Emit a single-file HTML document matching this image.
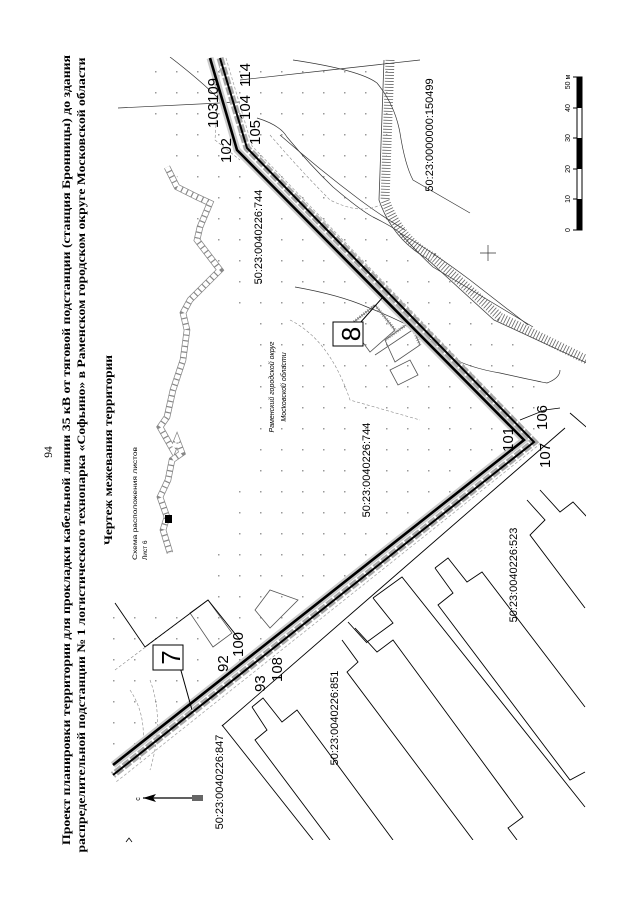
<!DOCTYPE html>
<html><head><meta charset="utf-8"><style>
html,body{margin:0;padding:0;background:#fff}
svg{display:block}
.t{font-family:"Liberation Serif",serif;font-weight:bold;font-size:11.5px;fill:#000}
.s{font-family:"Liberation Sans",sans-serif;fill:#000}
</style></head><body>
<svg width="640" height="905" viewBox="0 0 640 905" xmlns="http://www.w3.org/2000/svg">
<defs>
<pattern id="dots" width="21" height="21" patternUnits="userSpaceOnUse">
<rect x="8" y="8" width="1.5" height="1.5" fill="#999"/>
</pattern>
<clipPath id="map"><rect x="110" y="57" width="476" height="783"/></clipPath>
</defs>

<text class="t" transform="translate(52,452) rotate(-90)" text-anchor="middle" style="font-weight:normal">94</text>
<text class="t" transform="translate(70,450) rotate(-90)" text-anchor="middle" textLength="790" lengthAdjust="spacingAndGlyphs">Проект планировки территории для прокладки кабельной линии 35 кВ от тяговой подстанции (станция Бронницы) до здания</text>
<text class="t" transform="translate(85,455) rotate(-90)" text-anchor="middle" textLength="795" lengthAdjust="spacingAndGlyphs">распределительной подстанции № 1 логистического технопарка «Софьино» в Раменском городском округе Московской области</text>
<text class="t" transform="translate(112,450) rotate(-90)" text-anchor="middle" textLength="190" lengthAdjust="spacingAndGlyphs">Чертеж межевания территории</text>
<text class="s" font-size="6.5" transform="translate(137,560) rotate(-90)" textLength="113" lengthAdjust="spacingAndGlyphs">Схема расположения листов</text>
<text class="s" font-size="6.5" transform="translate(147,560) rotate(-90)">Лист 6</text>

<g clip-path="url(#map)">
<polygon points="150,57 390,57 385,200 433,257 500,317 560,420 525,440 110,770 110,600 200,600 250,450 250,330 150,120" fill="url(#dots)"/>

<path d="M390,60 L385,200 Q400,240 433,257 L500,317 L587,360" fill="none" stroke="#666" stroke-width="9" stroke-dasharray="0.8 2.2"/>
<path d="M384,60 L379,200 Q392,238 426,258 L494,320 L587,363" fill="none" stroke="#444" stroke-width="0.8"/>

<g fill="none" stroke="#333" stroke-width="0.7">
<path d="M293,60 Q360,70 377,83 Q395,105 400,133 Q405,165 413,180 L470,213"/>
<path d="M257,118 Q280,125 287,137 Q310,165 333,187 Q360,210 373,217 Q395,228 400,233 Q420,255 433,267 L533,327"/>
<path d="M295,287 Q340,295 367,307 Q395,318 417,330 Q440,345 450,357 Q470,368 500,373 Q540,382 547,383 Q560,378 560,370"/>
<path d="M118,108 L240,102"/>
<path d="M170,57 Q200,80 220,100"/>
<path d="M240,80 L330,70 L420,60"/>
<path d="M400,233 Q430,250 470,280 L528,325"/>
<path d="M280,135 Q320,170 360,200 Q380,215 405,230"/>
<path d="M480,253 L496,253 M488,245 L488,261"/>
</g>
<g fill="none" stroke="#888" stroke-width="0.6" stroke-dasharray="3 2">
<path d="M270,135 Q300,170 330,200 Q360,215 380,205"/>
<path d="M220,60 L215,140 L240,160"/>
<path d="M115,670 L208,600"/>
<path d="M130,690 Q150,720 140,760"/>
<path d="M150,680 Q165,720 150,770"/>
<path d="M290,320 Q330,340 350,400 L420,420"/>
</g>

<polyline points="167,167 177,187 197,197 210,203 200,227 197,240 210,257 220,270 210,280 190,300 183,313 187,330 183,360 173,390 167,417 160,427 173,450 177,440 182,453 172,460 168,480 160,497 167,517 163,530 170,553" fill="none" stroke="#888" stroke-width="6.5"/>
<polyline points="167,167 177,187 197,197 210,203 200,227 197,240 210,257 220,270 210,280 190,300 183,313 187,330 183,360 173,390 167,417 160,427 173,450 177,440 182,453 172,460 168,480 160,497 167,517 163,530 170,553" fill="none" stroke="#fff" stroke-width="5" stroke-dasharray="4.5 1.2"/>
<rect x="165" y="515" width="7" height="8" fill="#000"/>

<g fill="none" stroke="#555" stroke-width="0.8">
<path d="M350,325 L375,305 L395,330 L370,352 Z"/>
<path d="M385,340 L410,322 L420,345 L395,362 Z"/>
<path d="M375,355 L420,325"/>
<path d="M390,370 L410,360 L418,375 L398,385 Z"/>
<path d="M190,613 L208,600 L232,633 L213,647 Z"/>
<path d="M255,610 L270,590 L298,600 L270,628 Z"/>
</g>
<path d="M350,325 L375,305 L395,330" fill="none" stroke="#888" stroke-width="3" stroke-dasharray="1 1.5"/>
<path d="M385,340 L410,322 L420,345" fill="none" stroke="#888" stroke-width="3" stroke-dasharray="1 1.5"/>

<g fill="none" stroke="#000" stroke-width="0.9">
<path d="M565,428 L222,726"/>
<path d="M570,413 L592,432"/>
<path d="M222,725 L313,840"/>
<path d="M252,707 L263,698 L282,722 L297,710 L393,840"/>
<path d="M252,707 L267,730 L255,740 L330,840"/>
<path d="M348,622 L367,643"/>
<path d="M342,640 L358,662 L347,672 L473,840"/>
<path d="M355,628 L377,652 L393,640 L523,817 L508,828 L517,840"/>
<path d="M373,598 L402,577 L585,807"/>
<path d="M373,598 L393,623 L367,642"/>
<path d="M435,568 L448,558 L467,582 L482,572 L585,707"/>
<path d="M435,568 L453,593 L438,605 L570,780 L585,772"/>
<path d="M540,490 L560,512 L573,502 L587,517"/>
<path d="M527,500 L545,520 L530,535 L585,608"/>
<path d="M115,603 L145,647"/>
<path d="M145,647 L208,600 L240,640"/>
</g>

<polyline points="210,58 237,150 524,440 113,765" fill="none" stroke="#ccc" stroke-width="7"/>
<polyline points="220,58 247,148 534,442 113,775" fill="none" stroke="#aaa" stroke-width="7" stroke-dasharray="8 2"/>
<polyline points="210,58 237,150 524,440 113,765" fill="none" stroke="#000" stroke-width="2.6"/>
<polyline points="220,58 247,148 534,442 113,775" fill="none" stroke="#000" stroke-width="2"/>
<polyline points="226,58 252,146 540,444 116,782" fill="none" stroke="#aaa" stroke-width="0.8" stroke-dasharray="3 2"/>
</g>

<path d="M180,667 L192,710" stroke="#000" stroke-width="1"/>
<path d="M360,323 L383,297" stroke="#000" stroke-width="1"/>
<path d="M520,420 L545,410 L560,408" stroke="#000" stroke-width="0.7" fill="none"/>

<rect x="153" y="645" width="30" height="25" fill="#fff" stroke="#000" stroke-width="1"/>
<text class="s" font-size="26" transform="translate(180,657.5) rotate(-90)" text-anchor="middle">7</text>
<rect x="333" y="322" width="30" height="24" fill="#fff" stroke="#000" stroke-width="1"/>
<text class="s" font-size="26" transform="translate(360,334) rotate(-90)" text-anchor="middle">8</text>

<g class="s" font-size="15">
<text transform="translate(218,103) rotate(-90)">109</text>
<text transform="translate(218,128) rotate(-90)">103</text>
<text transform="translate(250,87) rotate(-90)">114</text>
<text transform="translate(250,120) rotate(-90)">104</text>
<text transform="translate(260,145) rotate(-90)">105</text>
<text transform="translate(231,163) rotate(-90)">102</text>
<text transform="translate(513,452) rotate(-90)">101</text>
<text transform="translate(547,430) rotate(-90)">106</text>
<text transform="translate(550,468) rotate(-90)">107</text>
<text transform="translate(228,672) rotate(-90)">92</text>
<text transform="translate(243,657) rotate(-90)">100</text>
<text transform="translate(265,692) rotate(-90)">93</text>
<text transform="translate(282,682) rotate(-90)">108</text>
</g>

<g class="s" font-size="11">
<text transform="translate(262,237) rotate(-90)" text-anchor="middle">50:23:0040226:744</text>
<text transform="translate(433,135) rotate(-90)" text-anchor="middle">50:23:0000000:150499</text>
<text transform="translate(370,470) rotate(-90)" text-anchor="middle">50:23:0040226:744</text>
<text transform="translate(517,575) rotate(-90)" text-anchor="middle">50:23:0040226:523</text>
<text transform="translate(338,718) rotate(-90)" text-anchor="middle">50:23:0040226:851</text>
<text transform="translate(223,782) rotate(-90)" text-anchor="middle">50:23:0040226:847</text>
</g>
<g class="s" font-size="7" font-style="italic">
<text transform="translate(274,387) rotate(-90)" text-anchor="middle">Раменский городской округ</text>
<text transform="translate(286,387) rotate(-90)" text-anchor="middle">Московской области</text>
</g>

<path d="M143,798 L203,798" stroke="#000" stroke-width="1.2"/>
<path d="M143,798 L156,794 L153,798 L156,802 Z" fill="#000"/>
<path d="M192,795 L203,795 L203,801 L192,801 Z" fill="#666"/>
<text class="s" font-size="7" transform="translate(140,799) rotate(-90)" text-anchor="middle">с</text>
<path d="M126,842 L129,838 L132,842" stroke="#000" fill="none" stroke-width="0.8"/>

<rect x="577" y="77" width="5" height="153" fill="#fff" stroke="#000" stroke-width="1"/>
<rect x="577" y="77" width="5" height="31" fill="#000"/>
<rect x="577" y="138" width="5" height="31" fill="#000"/>
<rect x="577" y="199" width="5" height="31" fill="#000"/>
<g stroke="#000" stroke-width="1">
<path d="M573,77 L582,77 M573,108 L577,108 M573,138 L577,138 M573,169 L577,169 M573,199 L577,199 M573,230 L582,230"/>
</g>
<g class="s" font-size="7">
<text transform="translate(570,82) rotate(-90)" text-anchor="middle">50 м</text>
<text transform="translate(570,108) rotate(-90)" text-anchor="middle">40</text>
<text transform="translate(570,138) rotate(-90)" text-anchor="middle">30</text>
<text transform="translate(570,169) rotate(-90)" text-anchor="middle">20</text>
<text transform="translate(570,199) rotate(-90)" text-anchor="middle">10</text>
<text transform="translate(570,230) rotate(-90)" text-anchor="middle">0</text>
</g>
</svg>
</body></html>
